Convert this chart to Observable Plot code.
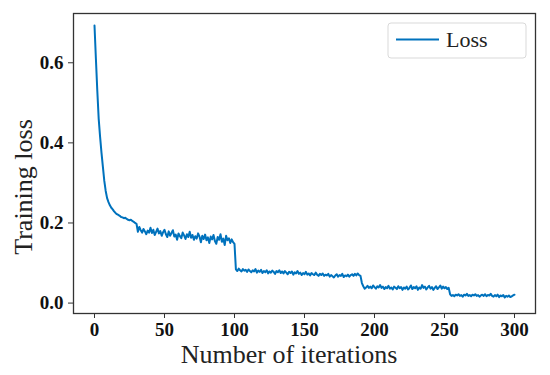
<!DOCTYPE html>
<html><head><meta charset="utf-8">
<script src="https://cdn.jsdelivr.net/npm/d3@7"></script>
<script src="https://cdn.jsdelivr.net/npm/@observablehq/plot@0.6"></script>
<style>body{margin:0;background:#fff}</style>
</head><body><div id="chart"></div>
<script>
// Training loss per iteration
const loss = [
  0.693, 0.61, 0.53, 0.46, 0.415, 0.375, 0.34, 0.305, 0.28, 0.262, 0.252, 0.244, 0.238, 0.234, 0.229, 0.225,
  0.222, 0.22, 0.218, 0.215, 0.214, 0.212, 0.213, 0.210, 0.208, 0.207, 0.208, 0.205, 0.203, 0.200, 0.198,
  0.178, 0.190, 0.182, 0.176, 0.185, 0.179, 0.172, 0.181, 0.176, 0.188, 0.175, 0.183, 0.170, 0.178, 0.186, 0.174, 0.180, 0.168, 0.177, 0.183,
  0.172, 0.165, 0.179, 0.168, 0.175, 0.182, 0.166, 0.171, 0.158, 0.174, 0.167, 0.162, 0.176, 0.169, 0.160, 0.172, 0.165, 0.178, 0.163, 0.170, 0.158, 0.167, 0.161, 0.174, 0.166,
  0.152, 0.168, 0.160, 0.171, 0.157, 0.164, 0.150, 0.166, 0.159, 0.170, 0.155, 0.148, 0.165, 0.158, 0.172, 0.153, 0.161, 0.145, 0.168, 0.157, 0.162, 0.150, 0.159, 0.152, 0.148,
  0.084, 0.080, 0.086, 0.082, 0.079, 0.085, 0.081, 0.083, 0.078, 0.084, 0.080, 0.077, 0.082, 0.079, 0.085, 0.076, 0.081, 0.078, 0.083, 0.075, 0.080, 0.077, 0.082, 0.074, 0.079, 0.076, 0.081, 0.078, 0.073, 0.080,
  0.077, 0.082, 0.075, 0.079, 0.074, 0.080, 0.076, 0.072, 0.078, 0.075, 0.079, 0.071, 0.077, 0.074, 0.080, 0.073, 0.076, 0.070, 0.075, 0.072, 0.078, 0.071, 0.074, 0.069, 0.075, 0.072, 0.070, 0.076, 0.071, 0.068,
  0.073, 0.070, 0.074, 0.068, 0.071, 0.069, 0.073, 0.066, 0.070, 0.067, 0.064, 0.069, 0.072, 0.066, 0.070, 0.068, 0.073, 0.065, 0.069, 0.067, 0.071, 0.066, 0.070, 0.072, 0.068, 0.073, 0.069, 0.074, 0.070, 0.068,
  0.050, 0.042, 0.036, 0.039, 0.043, 0.038, 0.041, 0.037, 0.044, 0.040, 0.036, 0.042, 0.039, 0.045, 0.038, 0.041, 0.035, 0.040, 0.037, 0.043, 0.036, 0.039, 0.034, 0.041, 0.038, 0.035, 0.042, 0.037, 0.040, 0.033,
  0.039, 0.036, 0.041, 0.034, 0.038, 0.044, 0.035, 0.040, 0.037, 0.042, 0.033, 0.039, 0.036, 0.045, 0.038, 0.041, 0.034, 0.039, 0.043, 0.036, 0.040, 0.033, 0.038, 0.042, 0.035, 0.039, 0.044, 0.036, 0.041, 0.037, 0.040, 0.035, 0.038,
  0.022, 0.018, 0.020, 0.017, 0.021, 0.019, 0.022, 0.018, 0.020, 0.016, 0.021, 0.019, 0.023, 0.018, 0.020, 0.017, 0.021, 0.019, 0.022, 0.018,
  0.020, 0.016, 0.019, 0.021, 0.018, 0.022, 0.017, 0.020, 0.019, 0.023, 0.018, 0.016, 0.020, 0.017, 0.021, 0.015, 0.019, 0.017, 0.020, 0.014,
  0.018, 0.016, 0.019, 0.015, 0.017, 0.019, 0.021
];
const iterations = loss.map((_, i) => i);
const xTicks = [0, 50, 100, 150, 200, 250, 300];
const yTicks = [0.0, 0.2, 0.4, 0.6];
const xLabel = "Number of iterations";
const yLabel = "Training loss";
const seriesName = "Loss";

const data = iterations.map((it, i) => ({iteration: it, loss: loss[i]}));

const W = 550, H = 375, mL = 73, mT = 13, mR = 15, mB = 62;
const serif = "'Liberation Serif', 'Times New Roman', serif";
const lineColor = "#0072BD";

const chart = Plot.plot({
  width: W, height: H,
  marginLeft: mL, marginTop: mT, marginRight: mR, marginBottom: mB,
  style: {fontFamily: serif, background: "#fff", color: "#111"},
  x: {domain: [-15, 315]},
  y: {domain: [-0.026, 0.723]},
  marks: [
    Plot.axisX({ticks: xTicks, tickSize: 5, tickPadding: 4, fontSize: 19, fontWeight: "bold", label: null, stroke: "#333"}),
    Plot.axisY({ticks: yTicks, tickFormat: d3.format(".1f"), tickSize: 5, tickPadding: 5, fontSize: 19, fontWeight: "bold", label: null, stroke: "#333"}),
    Plot.line(data, {x: "iteration", y: "loss", stroke: lineColor, strokeWidth: 2}),
    Plot.frame({stroke: "#333", strokeWidth: 1.3})
  ]
});
document.getElementById("chart").appendChild(chart);

const svg = d3.select(chart);
const right = W - mR;

// Axis titles
svg.append("text")
  .attr("x", 289).attr("y", H - 12)
  .attr("text-anchor", "middle")
  .attr("font-family", serif).attr("font-size", 26).attr("fill", "#222")
  .text(xLabel);
svg.append("text")
  .attr("transform", `translate(32, ${mT + 174}) rotate(-90)`)
  .attr("text-anchor", "middle")
  .attr("font-family", serif).attr("font-size", 26).attr("fill", "#222")
  .text(yLabel);

// Legend inside the plot area (upper right)
const g = svg.append("g").attr("class", "legend");
g.append("rect")
  .attr("x", right - 147).attr("y", mT + 10)
  .attr("width", 138).attr("height", 35)
  .attr("rx", 3).attr("ry", 3)
  .attr("fill", "#fff").attr("stroke", "#d9d9d9").attr("stroke-width", 1);
g.append("line")
  .attr("x1", right - 139).attr("x2", right - 96)
  .attr("y1", mT + 26.5).attr("y2", mT + 26.5)
  .attr("stroke", lineColor).attr("stroke-width", 2);
g.append("text")
  .attr("x", right - 89).attr("y", mT + 34)
  .attr("text-anchor", "start")
  .attr("font-family", serif).attr("font-size", 22).attr("fill", "#222")
  .text(seriesName);
</script>
</body></html>
